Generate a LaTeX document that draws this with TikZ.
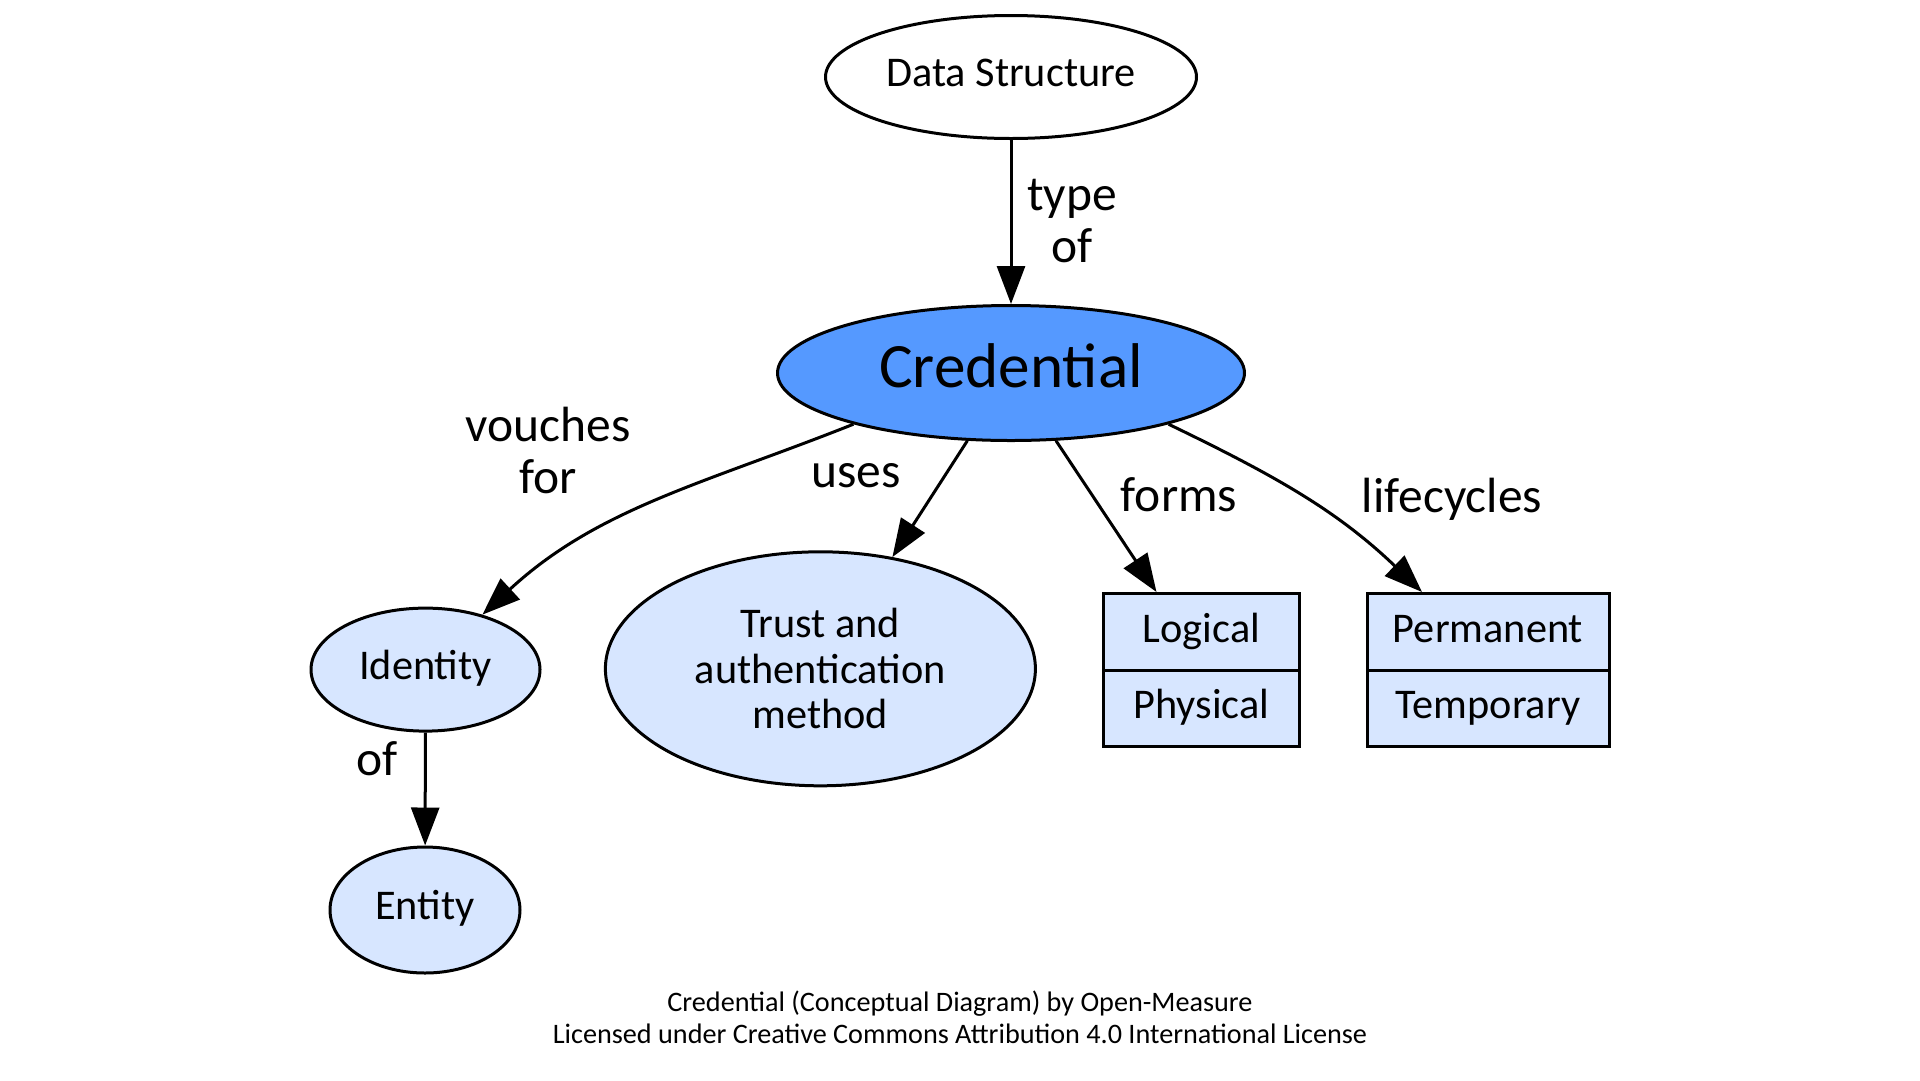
\documentclass[tikz,border=0pt]{standalone}
\usepackage{fontspec}
\setmainfont{Carlito}
\usepackage{tikz}
\usetikzlibrary{arrows.meta}
\usetikzlibrary{shapes.geometric}
\usetikzlibrary{shapes.multipart}
\definecolor{credblue}{HTML}{5599FF}
\definecolor{paleblue}{HTML}{D7E6FF}
\newcommand{\partstrut}{\rule[-16.5pt]{0pt}{53.5pt}}

\begin{document}
\begin{tikzpicture}[x=1pt,y=-1pt,
    concept/.style={ellipse,draw,line width=3pt,inner sep=0pt,fill=paleblue,align=center,
        font=\fontsize{42.3}{45.6}\selectfont},
    oneline/.style={text height=30pt,text depth=11pt},
    kind/.style={rectangle split,rectangle split parts=2,draw,line width=3pt,fill=paleblue,
        inner xsep=0pt,inner ysep=10pt,font=\fontsize{42.3}{45.6}\selectfont},
    lbl/.style={align=center,inner sep=0pt,font=\fontsize{49.5}{52}\selectfont},
    edge/.style={line width=3pt,-{Triangle[length=38pt,width=28pt]}}]
    \useasboundingbox (0,0) rectangle (1920,1080);
    \node[concept,oneline,fill=white,minimum width=371pt,minimum height=123pt] (ds) at (1011,77) {Data Structure};
    \node[concept,fill=credblue,text height=46pt,text depth=17pt,minimum width=467pt,minimum height=135pt,
        font=\fontsize{63.2}{68}\selectfont] (cred) at (1011,373) {Credential};
    \node[concept,oneline,minimum width=229pt,minimum height=123pt] (identity) at (425.5,669.6) {Identity};
    \node[concept,minimum width=430pt,minimum height=234pt] (trust) at (820.4,668.8) {Trust and\\authentication\\method};
    \node[concept,oneline,minimum width=190pt,minimum height=126pt] (entity) at (425,910) {Entity};
    \node[kind,minimum width=196pt] (logical) at (1201.5,670) {\partstrut Logical\nodepart{two}\partstrut Physical};
    \node[kind,minimum width=242pt] (perm) at (1488,670) {\partstrut Permanent\nodepart{two}\partstrut Temporary};

    \draw[edge] (ds) -- (cred);
    \draw[edge] (cred.198) .. controls (703,484) and (598,508) .. (identity.44);
    \draw[edge] (cred) -- (trust);
    \draw[edge] (cred) -- ([xshift=-45pt]logical.north);
    \draw[edge] (cred.342) .. controls (1276,476) and (1337.5,511) .. ([xshift=-66pt]perm.north);
    \draw[edge] (identity) -- (entity);

    \node[lbl] (typeof) at (1072,221) {type\\of};
    \node[lbl] (vouches) at (548,450) {vouches\\for};
    \node[lbl] (uses) at (856,476) {uses};
    \node[lbl] (forms) at (1179,495) {forms};
    \node[lbl] (lifecycles) at (1452,499) {lifecycles};
    \node[lbl] (of) at (377,759) {of};

    \node[align=center,inner sep=0pt,font=\fontsize{28.2}{32}\selectfont] (credit) at (960,1017)
        {Credential (Conceptual Diagram) by Open-Measure\\Licensed under Creative Commons Attribution 4.0 International License};
\end{tikzpicture}
\end{document}
